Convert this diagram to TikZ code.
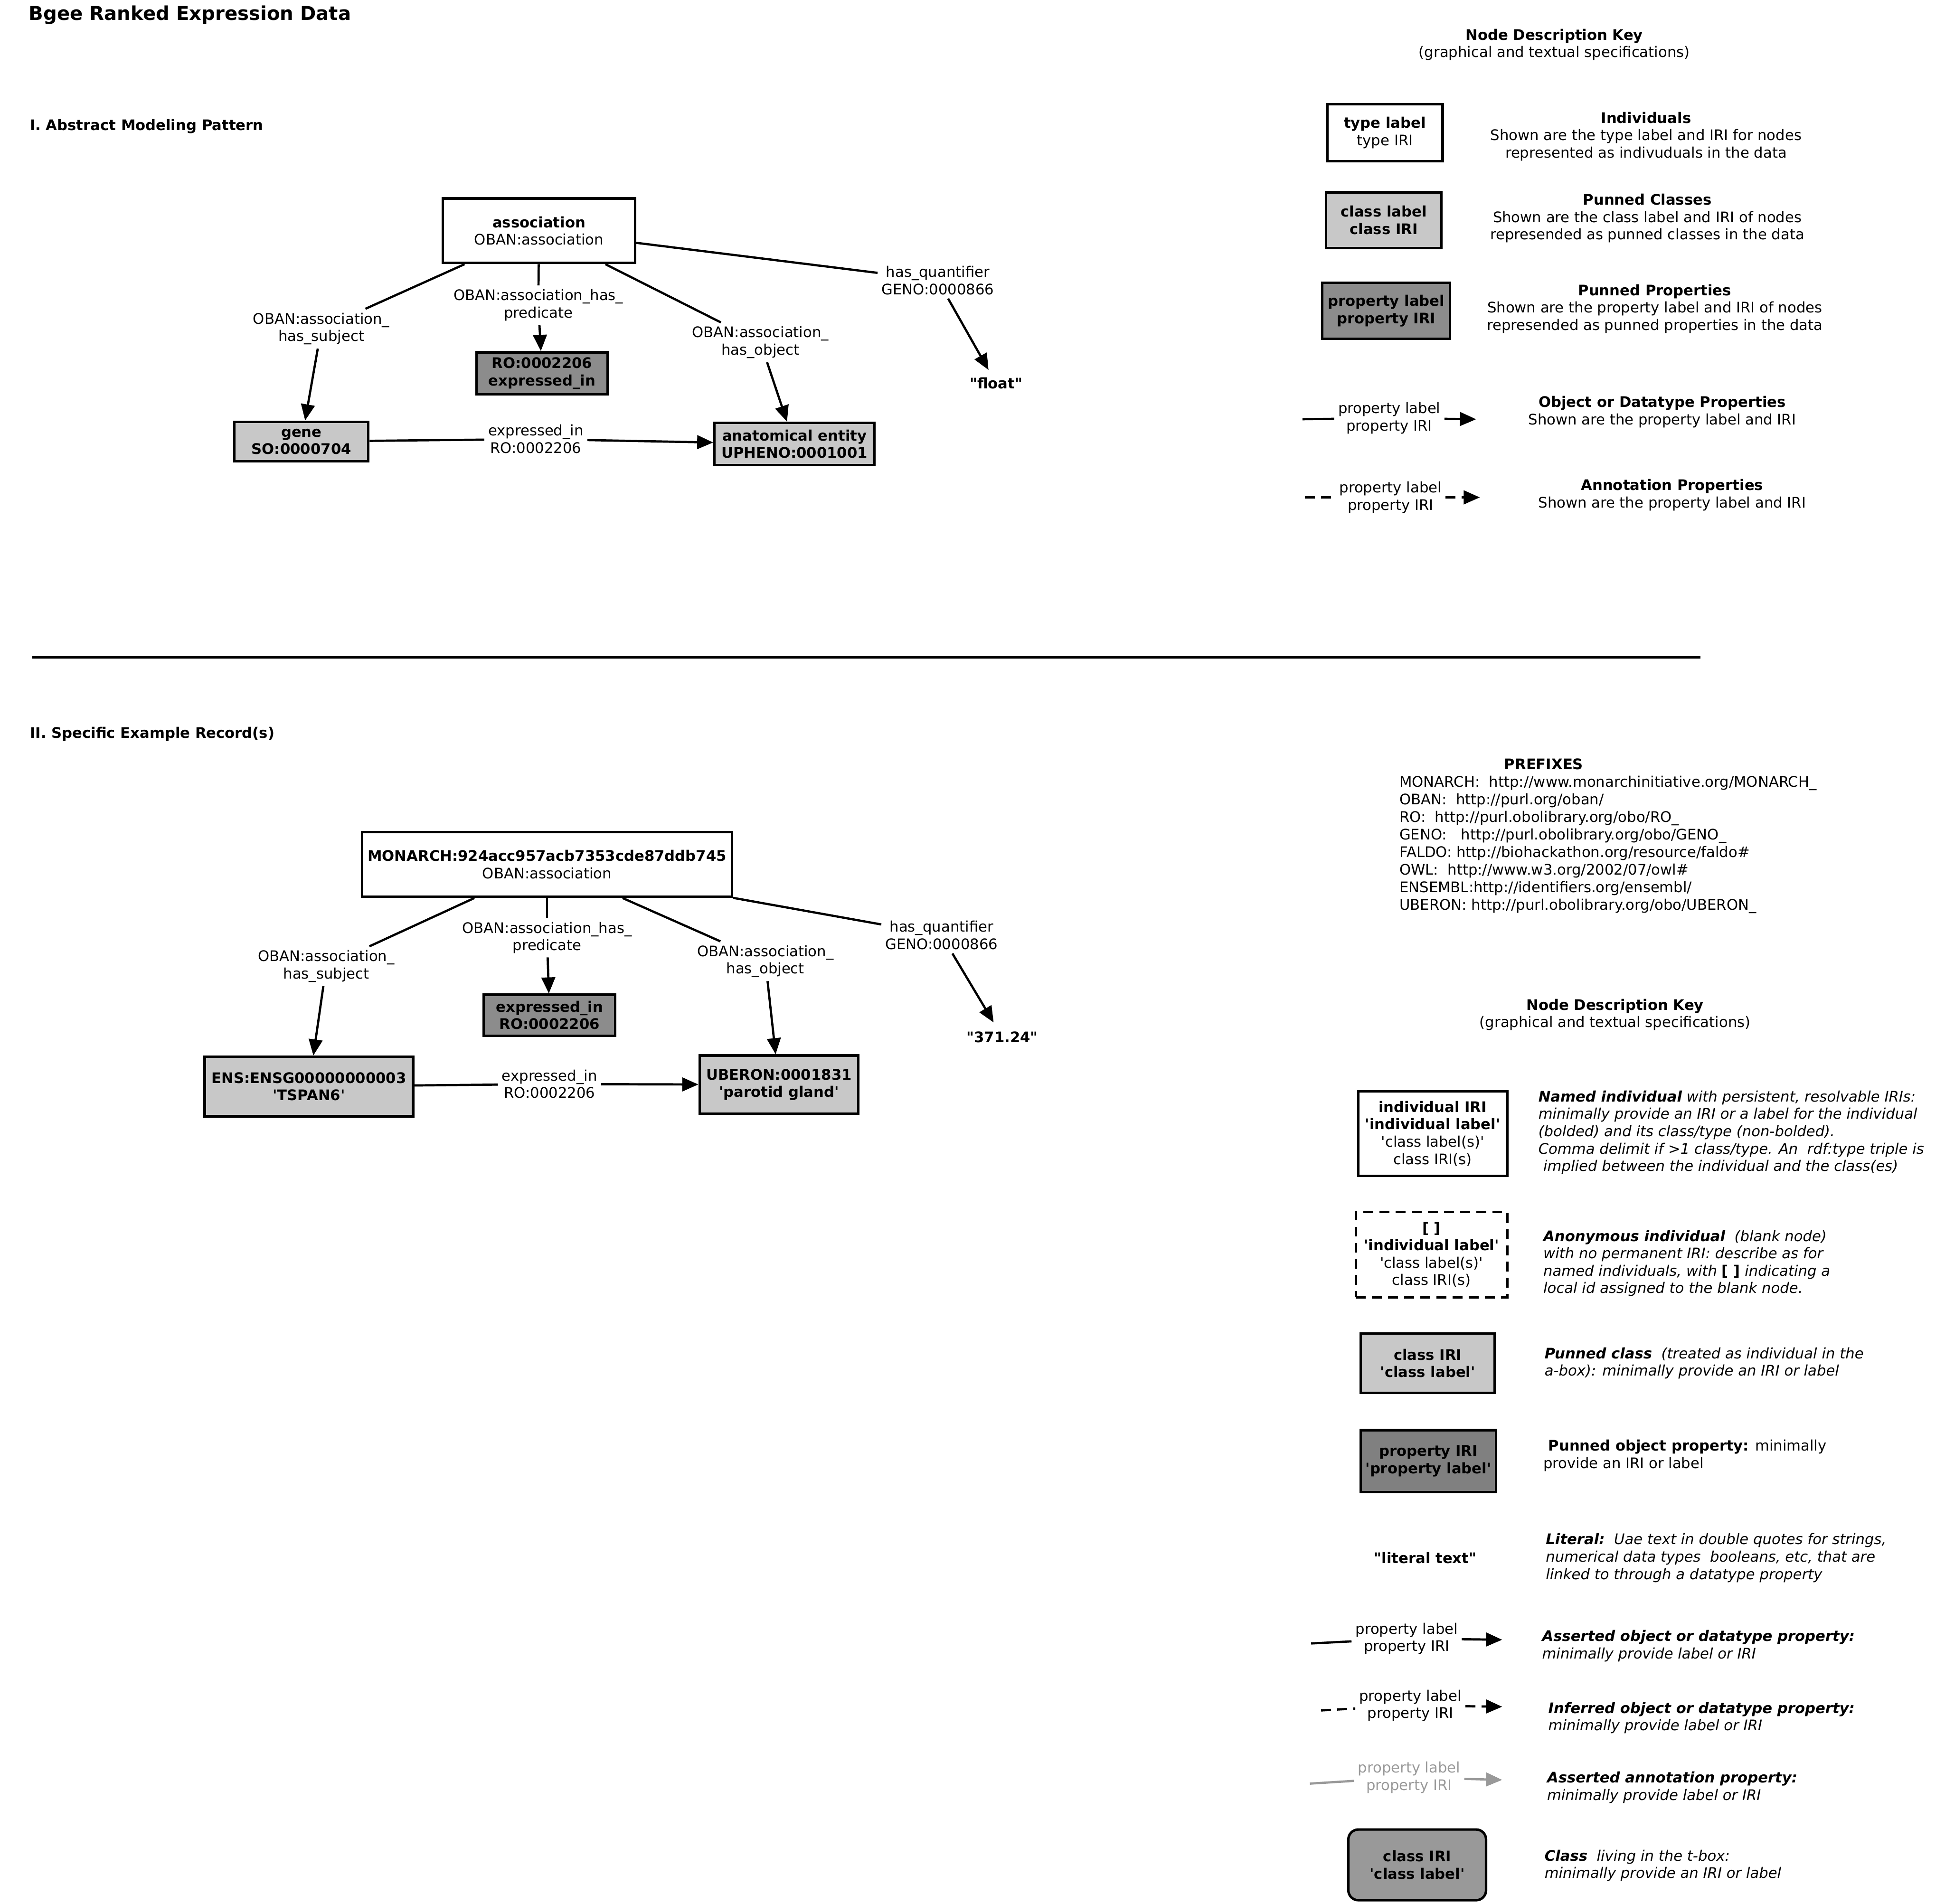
\documentclass[tikz,border=0pt]{standalone}
\usepackage{fontspec}
\setmainfont{DejaVu Sans}
\usetikzlibrary{arrows.meta}
\definecolor{clsgray}{HTML}{C8C8C8}
\definecolor{propgray}{HTML}{8C8C8C}
\definecolor{prop2gray}{HTML}{808080}
\definecolor{tboxgray}{HTML}{999999}
\definecolor{annogray}{HTML}{999999}
\newcommand{\sqt}[1]{\textquotesingle#1\textquotesingle}
\newcommand{\dqt}[1]{\textquotedbl#1\textquotedbl}
\AtBeginDocument{\fontsize{11.75}{14}\selectfont}
\begin{document}
\begin{tikzpicture}[x=1pt,y=-1pt,
  indiv/.style={draw,line width=2pt,fill=white,align=center,inner sep=1pt},
  pclass/.style={indiv,fill=clsgray,font=\bfseries},
  pprop/.style={indiv,fill=propgray,font=\bfseries},
  elab/.style={align=center,inner sep=3pt},
  rel/.style={line width=1.8pt},
  relto/.style={rel,-{Triangle[length=13pt,width=11pt]}},
  dashy/.style={dash pattern=on 8pt off 5pt},
  keyhead/.style={align=center,inner sep=0pt},
  desc/.style={align=left,anchor=west,inner sep=0pt,font=\itshape}]
\useasboundingbox (0,0) rectangle (1568,1535);
\node[font=\fontsize{15.4}{18}\selectfont\bfseries,anchor=west,inner sep=0pt] (title) at (23,12) {Bgee Ranked Expression Data};
\node[font=\bfseries,anchor=west,inner sep=0pt] (sec1) at (24,102) {I. Abstract Modeling Pattern};
\node[indiv,minimum width=155,minimum height=52] (assoc) at (434.5,186) {\textbf{association}\\OBAN:association};
\node[pprop,minimum width=106,minimum height=34] (rop) at (437,301) {RO:0002206\\expressed\_in};
\node[pclass,minimum width=108,minimum height=32] (gene) at (243,356) {gene\\SO:0000704};
\node[pclass,minimum width=129,minimum height=34] (anat) at (640.5,358) {anatomical entity\\UPHENO:0001001};
\node[font=\bfseries,inner sep=6pt] (flt) at (803,309) {\dqt{float}};
\node[elab] (lsubj) at (259,265) {OBAN:association\_\\has\_subject};
\node[elab] (lpred) at (434,246) {OBAN:association\_has\_\\predicate};
\node[elab] (lobj) at (613,276) {OBAN:association\_\\has\_object};
\node[elab] (lquant) at (756,226) {has\_quantifier\\GENO:0000866};
\node[elab] (lexp) at (432,354) {expressed\_in\\RO:0002206};
\draw[line width=1.6pt] (26,530) -- (1371,530);
\node[font=\bfseries,anchor=west,inner sep=0pt] (sec2) at (24,592) {II. Specific Example Record(s)};
\node[indiv,minimum width=298,minimum height=52] (mon) at (441,697) {\textbf{MONARCH:924acc957acb7353cde87ddb745}\\OBAN:association};
\node[pprop,minimum width=106,minimum height=33] (rop2) at (443,818.5) {expressed\_in\\RO:0002206};
\node[pclass,minimum width=168,minimum height=48] (ens) at (249,876) {ENS:ENSG00000000003\\\sqt{TSPAN6}};
\node[pclass,minimum width=128,minimum height=47] (uber) at (628,874.5) {UBERON:0001831\\\sqt{parotid gland}};
\node[font=\bfseries,inner sep=7pt] (val) at (808,836) {\dqt{371.24}};
\node[elab] (lsubj2) at (263,779) {OBAN:association\_\\has\_subject};
\node[elab] (lpred2) at (441,756) {OBAN:association\_has\_\\predicate};
\node[elab] (lobj2) at (617,775) {OBAN:association\_\\has\_object};
\node[elab] (lquant2) at (759,754) {has\_quantifier\\GENO:0000866};
\node[elab] (lexp2) at (443,874) {expressed\_in\\RO:0002206};
\foreach \a/\l/\b in {assoc/lsubj/gene,assoc/lpred/rop,assoc/lobj/anat,assoc/lquant/flt,gene/lexp/anat,
  mon/lsubj2/ens,mon/lpred2/rop2,mon/lobj2/uber,mon/lquant2/val,ens/lexp2/uber}{
  \draw[rel] (\a) -- (\l); \draw[relto] (\l) -- (\b);}
\node[keyhead] (key1) at (1253,36) {\textbf{Node Description Key}\\(graphical and textual specifications)};
\node[indiv,minimum width=93,minimum height=46] (ktype) at (1116.5,107) {\textbf{type label}\\type IRI};
\node[keyhead] (dtype) at (1327,110) {\textbf{Individuals}\\Shown are the type label and IRI for nodes\\represented as indivuduals in the data};
\node[pclass,minimum width=93,minimum height=45] (kclass) at (1115.5,177.5) {class label\\class IRI};
\node[keyhead] (dclass) at (1328,176) {\textbf{Punned Classes}\\Shown are the class label and IRI of nodes\\represended as punned classes in the data};
\node[pprop,minimum width=103,minimum height=45] (kprop) at (1117.5,250.5) {property label\\property IRI};
\node[keyhead] (dprop) at (1334,249) {\textbf{Punned Properties}\\Shown are the property label and IRI of nodes\\represended as punned properties in the data};
\coordinate (kobjA) at (1050,338);
\node[elab] (kobjL) at (1120,337) {property label\\property IRI};
\coordinate (kobjB) at (1190,338);
\node[keyhead] (dobj) at (1340,332) {\textbf{Object or Datatype Properties}\\Shown are the property label and IRI};
\coordinate (kannA) at (1052,401);
\node[elab] (kannL) at (1121,401) {property label\\property IRI};
\coordinate (kannB) at (1193,401);
\node[keyhead] (dann) at (1348,399) {\textbf{Annotation Properties}\\Shown are the property label and IRI};
\draw[rel] (kobjA) -- (kobjL); \draw[relto] (kobjL) -- (kobjB);
\draw[rel,dashy] (kannA) -- (kannL); \draw[relto,dashy] (kannL) -- (kannB);
\node[font=\bfseries,inner sep=0pt] (pfxhead) at (1244.5,616) {PREFIXES};
\node[desc,font=\upshape] (pfx) at (1128,681) {MONARCH:\ \ http://www.monarchinitiative.org/MONARCH\_\\[0.14pt]OBAN:\ \ http://purl.org/oban/\\[0.14pt]RO:\ \ http://purl.obolibrary.org/obo/RO\_\\[0.14pt]GENO:\ \ \ http://purl.obolibrary.org/obo/GENO\_\\[0.14pt]FALDO: http://biohackathon.org/resource/faldo\#\\[0.14pt]OWL:\ \ http://www.w3.org/2002/07/owl\#\\[0.14pt]ENSEMBL:http://identifiers.org/ensembl/\\[0.14pt]UBERON: http://purl.obolibrary.org/obo/UBERON\_};
\node[keyhead] (key2) at (1302,818) {\textbf{Node Description Key}\\(graphical and textual specifications)};
\node[indiv,minimum width=120,minimum height=68] (kind) at (1155,914) {\textbf{individual IRI}\\\textbf{\sqt{individual label}}\\\sqt{class label(s)}\\class IRI(s)};
\node[desc] (dind) at (1240,913) {\textbf{Named individual} with persistent, resolvable IRIs:\\minimally provide an IRI or a label for the individual\\(bolded) and its class/type (non-bolded).\\Comma delimit if >1 class/type. An\ \ rdf:type triple is\\\hspace*{4pt}implied between the individual and the class(es)};
\node[indiv,dashy,minimum width=122,minimum height=69] (kanon) at (1154,1011.5) {\textbf{[ ]}\\\textbf{\sqt{individual label}}\\\sqt{class label(s)}\\class IRI(s)};
\node[desc] (danon) at (1244,1018.5) {\textbf{Anonymous individual}\ \ (blank node)\\with no permanent IRI: describe as for\\named individuals, with \textbf{\upshape [ ]} indicating a\\local id assigned to the blank node.};
\node[pclass,minimum width=108,minimum height=48] (kpc) at (1151,1099) {class IRI\\\sqt{class label}};
\node[desc] (dpc) at (1245,1099) {\textbf{Punned class}\ \ (treated as individual in the\\a-box): minimally provide an IRI or label};
\node[indiv,fill=prop2gray,font=\bfseries,minimum width=109,minimum height=50] (kpp) at (1151.5,1178) {property IRI\\\sqt{property label}};
\node[desc,font=\upshape] (dpp) at (1244,1173.5) {\hspace*{4pt}\textbf{Punned object property:} minimally\\provide an IRI or label};
\node[font=\bfseries] (klit) at (1149,1256) {\dqt{literal text}};
\node[desc] (dlit) at (1246,1256) {\textbf{Literal:}\ \ Uae text in double quotes for strings,\\numerical data types\ \ booleans, etc, that are\\linked to through a datatype property};
\coordinate (kasA) at (1057,1325);
\node[elab] (kasL) at (1134,1321) {property label\\property IRI};
\coordinate (kasB) at (1211,1322);
\node[desc] (das) at (1243,1327) {\textbf{Asserted object or datatype property:}\\minimally provide label or IRI};
\coordinate (kinA) at (1065,1379);
\node[elab] (kinL) at (1137,1375) {property label\\property IRI};
\coordinate (kinB) at (1211,1376);
\node[desc] (din) at (1248,1385) {\textbf{Inferred object or datatype property:}\\minimally provide label or IRI};
\coordinate (kanA) at (1056,1438);
\node[elab,text=annogray] (kanL) at (1136,1433) {property label\\property IRI};
\coordinate (kanB) at (1211,1435);
\node[desc] (dan) at (1247,1441) {\textbf{Asserted annotation property:}\\minimally provide label or IRI};
\draw[rel] (kasA) -- (kasL); \draw[relto] (kasL) -- (kasB);
\draw[rel,dashy] (kinA) -- (kinL); \draw[relto,dashy] (kinL) -- (kinB);
\draw[rel,annogray] (kanA) -- (kanL); \draw[relto,annogray] (kanL) -- (kanB);
\node[indiv,rounded corners=8pt,fill=tboxgray,font=\bfseries,minimum width=111,minimum height=57] (kcls) at (1142.5,1503.5) {class IRI\\\sqt{class label}};
\node[desc] (dcls) at (1245,1504) {\textbf{Class}\ \ living in the t-box:\\minimally provide an IRI or label};
\end{tikzpicture}
\end{document}
